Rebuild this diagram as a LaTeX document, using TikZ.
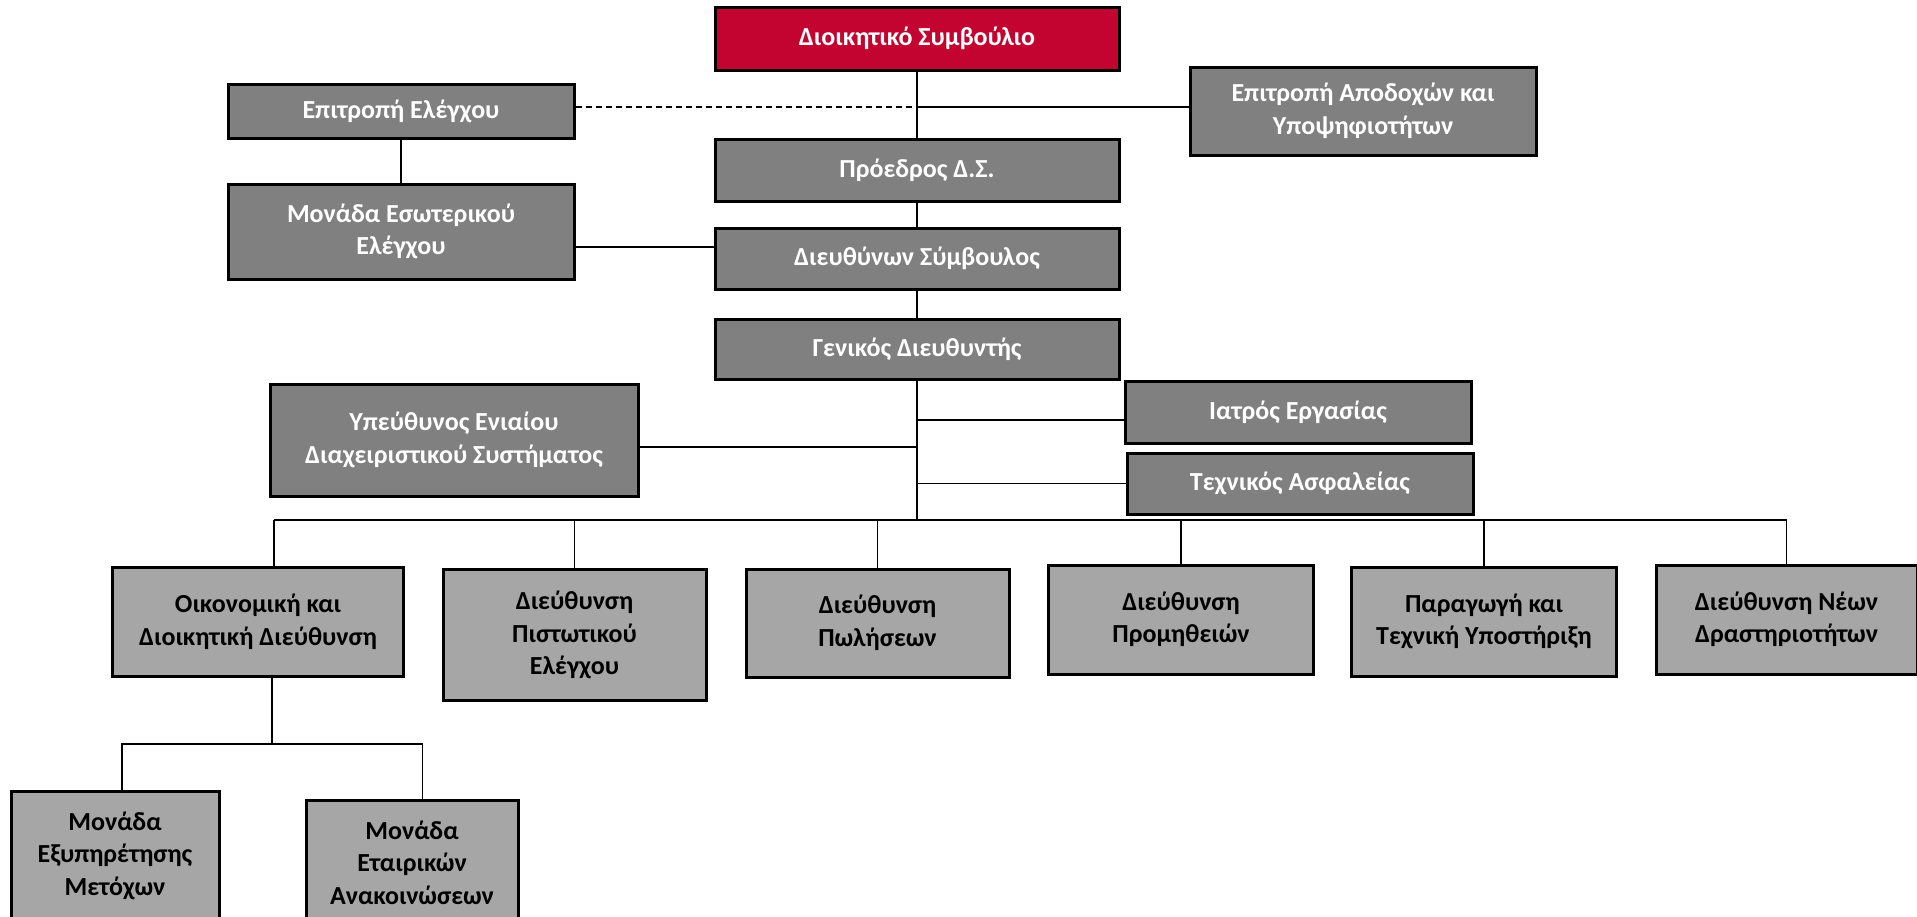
\documentclass[tikz,border=0pt]{standalone}
\usepackage{fontspec}
\setmainfont{Carlito}
\usepackage{tikz}
\usetikzlibrary{positioning}
\definecolor{boardred}{RGB}{196,4,48}
\definecolor{darkbox}{RGB}{128,128,128}
\definecolor{lightbox}{RGB}{166,166,166}
\tikzset{
  org box/.style={
    draw=black,              % box outline
    line width=1.5pt,
    inner sep=0pt,
    align=center,
    font=\fontsize{13}{16.25}\selectfont\bfseries,
  },
  top box/.style={org box, fill=darkbox, text=white},
  board box/.style={org box, fill=boardred, text=white},
  dept box/.style={org box, fill=lightbox, text=black},
  link line/.style={line width=0.6pt, black},
}

\begin{document}
\begin{tikzpicture}[x=0.5pt, y=-0.5pt]
    \useasboundingbox (0,0) rectangle (1917,916);

    % Top of the chart
    \node[board box, minimum width=202pt, minimum height=31.5pt] (board) at (917,38.5) {Διοικητικό Συμβούλιο};
    \node[top box, minimum width=173pt, minimum height=27pt] (audit) at (401,111) {Επιτροπή Ελέγχου};
    \node[top box, minimum width=173pt, minimum height=44pt] (remun) at (1363,111) {Επιτροπή Αποδοχών και\\Υποψηφιοτήτων};
    \node[top box, minimum width=202pt, minimum height=31pt] (chair) at (917,170) {Πρόεδρος Δ.Σ.};
    \node[top box, minimum width=173pt, minimum height=47.5pt] (internal) at (401,231.5) {Μονάδα Εσωτερικού\\Ελέγχου};
    \node[top box, minimum width=202pt, minimum height=30.5pt] (ceo) at (917,258.5) {Διευθύνων Σύμβουλος};
    \node[top box, minimum width=202pt, minimum height=30pt] (gm) at (917,349) {Γενικός Διευθυντής};

    % Staff beside the general manager
    \node[top box, minimum width=184pt, minimum height=56pt] (ims) at (454,440) {Υπεύθυνος Ενιαίου\\Διαχειριστικού Συστήματος};
    \node[top box, minimum width=173pt, minimum height=31pt] (doctor) at (1298,412) {Ιατρός Εργασίας};
    \node[top box, minimum width=173pt, minimum height=30.5pt] (safety) at (1300,483.5) {Τεχνικός Ασφαλείας};

    % Departments
    \node[dept box, minimum width=145.5pt, minimum height=54.5pt] (fin) at (258,622) {Οικονομική και\\Διοικητική Διεύθυνση};
    \node[dept box, minimum width=131.5pt, minimum height=65.5pt] (credit) at (574.5,635) {Διεύθυνση\\Πιστωτικού\\Ελέγχου};
    \node[dept box, minimum width=131.5pt, minimum height=54pt] (sales) at (877.5,623) {Διεύθυνση\\Πωλήσεων};
    \node[dept box, minimum width=132.5pt, minimum height=54.5pt] (supply) at (1181,619.5) {Διεύθυνση\\Προμηθειών};
    \node[dept box, minimum width=132.5pt, minimum height=54.5pt] (prod) at (1484,621.5) {Παραγωγή και\\Τεχνική Υποστήριξη};
    \node[dept box, minimum width=130.5pt, minimum height=54.5pt] (newact) at (1786.5,619.5) {Διεύθυνση Νέων\\Δραστηριοτήτων};

    % Units under finance
    \node[dept box, minimum width=104pt, minimum height=64.5pt] (share) at (115,855.5) {Μονάδα\\Εξυπηρέτησης\\Μετόχων};
    \node[dept box, minimum width=106pt, minimum height=62.5pt] (announce) at (412,862.5) {Μονάδα\\Εταιρικών\\Ανακοινώσεων};

    % Trunk
    \draw[link line] (board.south) -- (chair.north);
    \draw[link line] (chair.south) -- (ceo.north);
    \draw[link line] (ceo.south) -- (gm.north);
    \coordinate (c) at ([yshift=2pt]audit.east);
    \draw[link line, dash pattern=on 3pt off 2pt] (c) -- (c -| board.south);
    \draw[link line] (c -| board.south) -- (c -| remun.west);
    \draw[link line] (audit.south) -- (internal.north);
    \coordinate (k) at ([yshift=5.75pt]ceo.west);
    \draw[link line] (k -| internal.east) -- (k);

    % General manager branches
    \coordinate (bus) at (gm.south |- 0,520);
    \draw[link line] (gm.south) -- (bus);
    \coordinate (i) at ([yshift=-3.5pt]ims.east);
    \draw[link line] (i) -- (i -| gm.south);
    \coordinate (d) at ([yshift=-4pt]doctor.west);
    \draw[link line] (d -| gm.south) -- (d);
    \draw[link line] (safety.west -| gm.south) -- (safety.west);

    % Department bus
    \coordinate (finTop) at ([xshift=8pt]fin.north);
    \draw[link line] (finTop |- bus) -- (newact.north |- bus);
    \draw[link line] (finTop) -- (finTop |- bus);
    \foreach \n in {credit,sales,supply,prod,newact}
      \draw[link line] (\n.north) -- (\n.north |- bus);

    % Finance sub-units
    \coordinate (finBot) at ([xshift=7pt]fin.south);
    \coordinate (sub) at (finBot |- 0,744);
    \coordinate (shareTop) at ([xshift=3.5pt]share.north);
    \coordinate (annTop) at ([xshift=5.25pt]announce.north);
    \draw[link line] (finBot) -- (sub);
    \draw[link line] (shareTop) |- (sub) -| (annTop);
\end{tikzpicture}
\end{document}
